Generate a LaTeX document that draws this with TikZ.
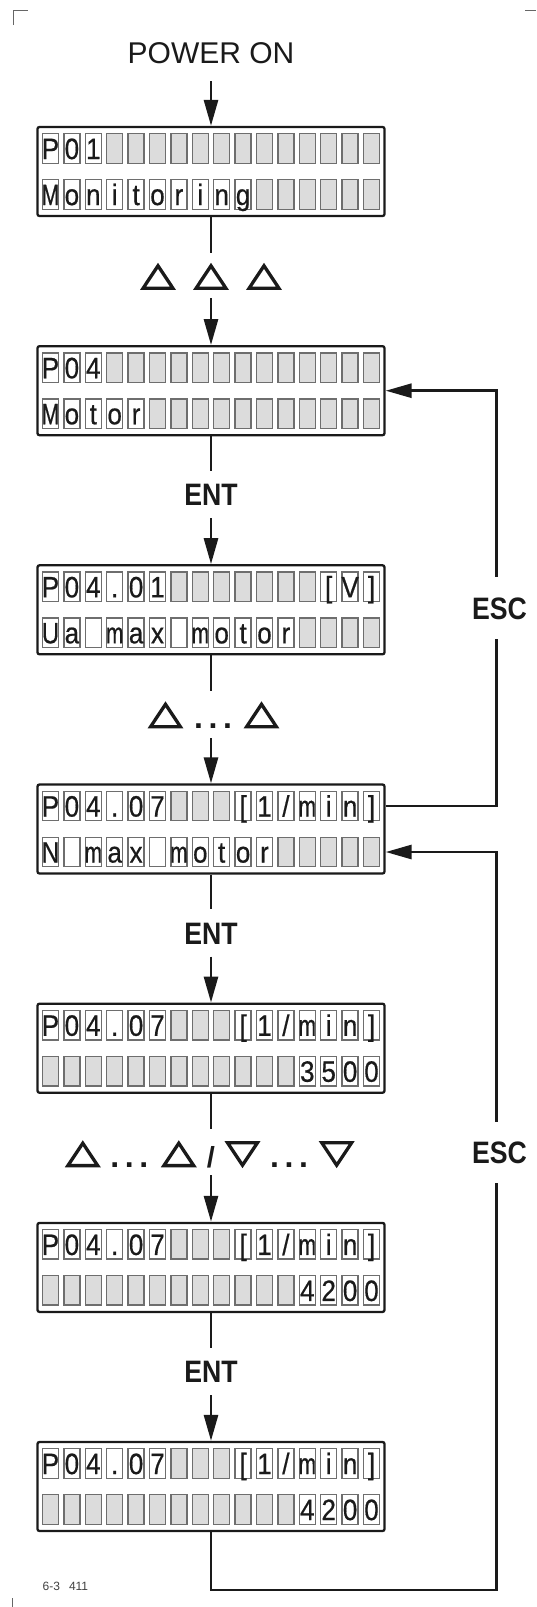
\documentclass[tikz,border=0pt]{standalone}
\usepackage{fontspec}
\setmainfont{Liberation Sans}
\newfontfamily\lcdfam[FakeBold=0.6]{Liberation Sans}
\usetikzlibrary{arrows.meta,calc}

\definecolor{cellfill}{HTML}{DCDCDC}
\definecolor{cellline}{HTML}{6E6E6E}
\definecolor{ink}{HTML}{1A1A1A}

\newlength\lcdw
\newcommand\lcdfont{\lcdfam\fontsize{29.5pt}{30pt}\selectfont}
\newcommand\lcdglyph[1]{\settowidth\lcdw{\lcdfont #1}\pgfmathsetmacro\lcds{min(0.88,17.5pt/\lcdw)}\makebox[0pt]{\scalebox{\lcds}[1]{\lcdfont #1}}}
\newcommand\keytxt[1]{\scalebox{0.86}[1]{#1}}
\def\lcdgreytok{*}
\def\lcdblanktok{+}

\newcommand\lcdrow[4]{%
  \foreach \ch [count=\i] in {#4} {%
    \pgfmathsetmacro\cx{211+(\i-8.5)*21.4}%
    \edef\tmp{\ch}%
    \ifx\tmp\lcdgreytok
      \node[cellg] (#1-#2-\i) at (\cx,#3) {};
    \else\ifx\tmp\lcdblanktok
      \node[cellw] (#1-#2-\i) at (\cx,#3) {};
    \else
      \node[cellw] (#1-#2-\i) at (\cx,#3) {\lcdglyph{\ch}};
    \fi\fi
  }%
}
\newcommand\lcdbox[4]{%
  \node[lcdframe] (#1) at (211,#2) {};
  \lcdrow{#1}{1}{#2-23}{#3}
  \lcdrow{#1}{2}{#2+23}{#4}
}

\tikzset{
  lcdframe/.style={draw=ink, line width=2.3pt, rounded corners=2pt, minimum width=347pt, minimum height=89pt, inner sep=0pt},
  cellg/.style={draw=cellline, fill=cellfill, line width=1.4pt, minimum width=16pt, minimum height=29.5pt, inner sep=0pt},
  cellw/.style={cellg, fill=white, text height=21.1pt, text depth=0pt, text=ink},
  conn/.style={line width=2.8pt, draw=ink, line join=miter},
  arr/.style={conn, -{Triangle[length=26pt,width=14pt]}},
  tri/.style={line width=3.3pt, draw=ink, line join=miter},
  keylbl/.style={inner sep=0pt, text height=22.2pt, text depth=0pt, font=\fontsize{31pt}{31pt}\selectfont\bfseries, text=ink},
  gapnode/.style={inner sep=0pt, minimum width=4pt},
  dotstxt/.style={anchor=base, inner sep=0pt, font=\fontsize{32pt}{32pt}\selectfont\bfseries, text=ink},
  cropmark/.style={draw=black!60, line width=0.9pt},
  uptri/.pic={\draw[tri] (-14.9,11.2) -- (14.9,11.2) -- (0,-11.2) -- cycle;},
  dntri/.pic={\draw[tri] (-14.9,-11.2) -- (14.9,-11.2) -- (0,11.2) -- cycle;},
}

\begin{document}
\begin{tikzpicture}[x=1pt,y=-1pt]
\useasboundingbox (0,0) rectangle (536,1607);

% crop marks
\draw[cropmark] (13,25) -- (13,10) -- (28,10);
\draw[cropmark] (525,10) -- (536,10);
\draw[cropmark] (12.5,1598) -- (12.5,1607);

% title
\node[inner sep=0pt, text height=22pt, text depth=0pt, minimum height=57pt, font=\fontsize{30pt}{30pt}\selectfont, text=ink] (pwr) at (211,52.5) {POWER ON};

% displays
\lcdbox{b1}{171.5}{P,0,1,*,*,*,*,*,*,*,*,*,*,*,*,*}{M,o,n,i,t,o,r,i,n,g,*,*,*,*,*,*}
\lcdbox{b2}{390.7}{P,0,4,*,*,*,*,*,*,*,*,*,*,*,*,*}{M,o,t,o,r,*,*,*,*,*,*,*,*,*,*,*}
\lcdbox{b3}{609.8}{P,0,4,{.},0,1,*,*,*,*,*,*,*,{[},V,{]}}{U,a,+,m,a,x,+,m,o,t,o,r,*,*,*,*}
\lcdbox{b4}{829}{P,0,4,{.},0,7,*,*,*,{[},1,/,m,i,n,{]}}{N,+,m,a,x,+,m,o,t,o,r,*,*,*,*,*}
\lcdbox{b5}{1048.2}{P,0,4,{.},0,7,*,*,*,{[},1,/,m,i,n,{]}}{*,*,*,*,*,*,*,*,*,*,*,*,3,5,0,0}
\lcdbox{b6}{1267.4}{P,0,4,{.},0,7,*,*,*,{[},1,/,m,i,n,{]}}{*,*,*,*,*,*,*,*,*,*,*,*,4,2,0,0}
\lcdbox{b7}{1486.5}{P,0,4,{.},0,7,*,*,*,{[},1,/,m,i,n,{]}}{*,*,*,*,*,*,*,*,*,*,*,*,4,2,0,0}

% labels between displays
\node[gapnode, minimum height=45pt] (g1) at (211,275.5) {};
\pic at (158,277) {uptri};
\pic at (211,277) {uptri};
\pic at (264,277) {uptri};

\node[keylbl, minimum height=46.5pt] (ent1) at (211,494.7) {\keytxt{ENT}};

\node[gapnode, minimum height=47pt] (g3) at (211,714.5) {};
\pic at (165.5,715.5) {uptri};
\node[dotstxt] (d3) at (213,728.3) {.\kern5.6pt.\kern5.6pt.};
\pic at (261.5,715.5) {uptri};

\node[keylbl, minimum height=47pt] (ent2) at (211,933) {\keytxt{ENT}};

\node[gapnode, minimum height=46pt] (g5) at (211,1152.2) {};
\pic at (82.8,1154.4) {uptri};
\node[dotstxt] (d5a) at (129.3,1167.8) {.\kern5.6pt.\kern5.6pt.};
\pic at (178.8,1154.4) {uptri};
\node[anchor=base, inner sep=0pt, font=\fontsize{29pt}{29pt}\selectfont\bfseries, text=ink] (sl) at (211,1167.5) {/};
\pic at (242.5,1154) {dntri};
\node[dotstxt] (d5b) at (289,1167.8) {.\kern5.6pt.\kern5.6pt.};
\pic at (336.7,1154) {dntri};

\node[keylbl, minimum height=47pt] (ent3) at (211,1371.4) {\keytxt{ENT}};

\node[keylbl, minimum height=62pt] (esc1) at (496.5,608) {\hspace*{6pt}\keytxt{ESC}};
\node[keylbl, minimum height=61pt] (esc2) at (496.5,1152.5) {\hspace*{6pt}\keytxt{ESC}};

\coordinate (lowturn) at (211,1590);

% main flow
\draw[arr] (pwr.south) -- (b1.north);
\draw[conn] (b1.south) -- (g1.north);
\draw[arr] (g1.south) -- (b2.north);
\draw[conn] (b2.south) -- (ent1.north);
\draw[arr] (ent1.south) -- (b3.north);
\draw[conn] (b3.south) -- (g3.north);
\draw[arr] (g3.south) -- (b4.north);
\draw[conn] (b4.south) -- (ent2.north);
\draw[arr] (ent2.south) -- (b5.north);
\draw[conn] (b5.south) -- (g5.north);
\draw[arr] (g5.south) -- (b6.north);
\draw[conn] (b6.south) -- (ent3.north);
\draw[arr] (ent3.south) -- (b7.north);

% ESC loops
\draw[conn] (b4.east |- b4-1-16) -| (esc1);
\draw[arr] (esc1) |- (b2.east);
\draw[conn] (b7.south) -- (lowturn) -| (esc2);
\draw[arr] (esc2) |- (b4.east |- b4-2-16);

% figure number
\node[anchor=base west, inner sep=0pt, font=\fontsize{12pt}{12pt}\selectfont, text=black!75] (fignum) at (42.5,1590) {6-3\hspace{9pt}411};
\end{tikzpicture}
\end{document}
